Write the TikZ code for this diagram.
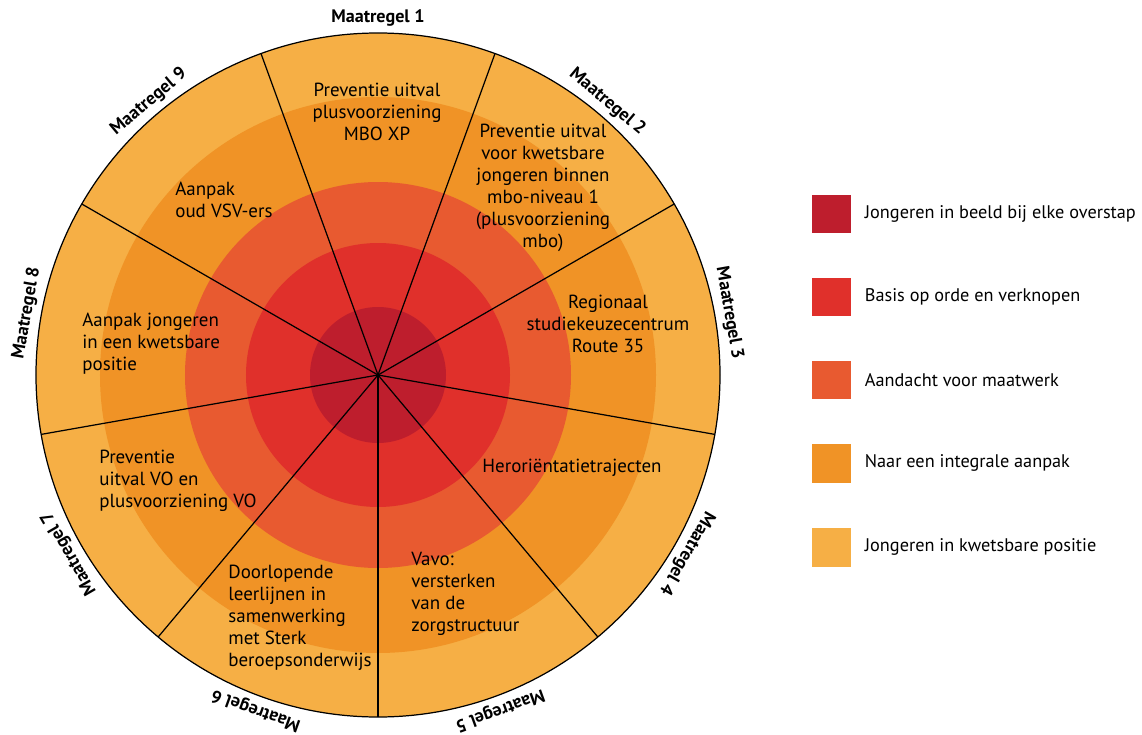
\documentclass[tikz,border=0pt]{standalone}
\usepackage{fontspec}
\setmainfont{PT Sans}
\usetikzlibrary{positioning}

\definecolor{ringA}{HTML}{BE1E2D}
\definecolor{ringB}{HTML}{E0302B}
\definecolor{ringC}{HTML}{E85A30}
\definecolor{ringD}{HTML}{F09326}
\definecolor{ringE}{HTML}{F6AF45}

\tikzset{
  spoke/.style={line width=0.7pt},
  maatlabel/.style={font=\bfseries\fontsize{10.3}{12}\selectfont, anchor=base, inner sep=0pt},
  sectortext/.style={font=\fontsize{10.8}{12.5}\selectfont, inner sep=0pt},
  keybox/.style={minimum size=0.78cm, inner sep=0pt},
  keytext/.style={font=\fontsize{10.4}{12}\selectfont, inner sep=0pt, anchor=west}
}

\begin{document}
\begin{tikzpicture}[x=0.02cm,y=0.02cm]
\useasboundingbox (-378,-359) rectangle (764,375);
\coordinate (centre) at (0,0);
% The rings, from the outside in
\fill[ringE] (centre) circle[radius=342];
\fill[ringD] (centre) circle[radius=278];
\fill[ringC] (centre) circle[radius=193];
\fill[ringB] (centre) circle[radius=132];
\fill[ringA] (centre) circle[radius=68];
\draw[spoke] (centre) circle[radius=342];
% Nine sectors of 40 degrees
\foreach \a in {70,30,...,-250}
  \draw[spoke] (centre) -- (\a:342);
% Names of the measures round the rim
\foreach \n in {1,...,9}{
  \pgfmathsetmacro\ang{130-40*\n}
  \node[maatlabel, rotate=\ang-90] (m\n) at (\ang:352) {Maatregel \n};
}
% Texts inside the sectors
\node[sectortext, align=center] (t1) at (-1,263) {Preventie uitval\\plusvoorziening\\MBO XP};
\node[sectortext, align=center] (t2) at (165,187) {Preventie uitval\\voor kwetsbare\\jongeren binnen\\mbo-niveau 1\\(plusvoorziening\\mbo)};
\node[sectortext, align=center] (t3) at (230,51) {Regionaal\\studiekeuzecentrum\\Route 35};
\node[sectortext, align=center] (t4) at (194,-93) {Heroriëntatietrajecten};
\node[sectortext, align=left, anchor=west] (t5) at (33,-219) {Vavo:\\versterken\\van de\\zorgstructuur};
\node[sectortext, align=left, anchor=west] (t6) at (-150,-243) {Doorlopende\\leerlijnen in\\samenwerking\\met Sterk\\beroepsonderwijs};
\node[sectortext, align=left, anchor=west] (t7) at (-279,-106) {Preventie\\uitval VO en\\plusvoorziening VO};
\node[sectortext, align=left, anchor=west] (t8) at (-296,31) {Aanpak jongeren\\in een kwetsbare\\positie};
\node[sectortext, align=left, anchor=west] (t9) at (-203,175) {Aanpak\\oud VSV-ers};
% The key
\foreach \i/\col/\txt/\y in {1/ringA/Jongeren in beeld bij elke overstap/161,
                             2/ringB/Basis op orde en verknopen/78,
                             3/ringC/Aandacht voor maatwerk/-5,
                             4/ringD/Naar een integrale aanpak/-88,
                             5/ringE/Jongeren in kwetsbare positie/-172}{
  \node[keybox, fill=\col] (sq\i) at (453.5,\y) {};
  \node[keytext, right=7.5pt of sq\i] (key\i) {\txt};
}
\end{tikzpicture}
\end{document}
